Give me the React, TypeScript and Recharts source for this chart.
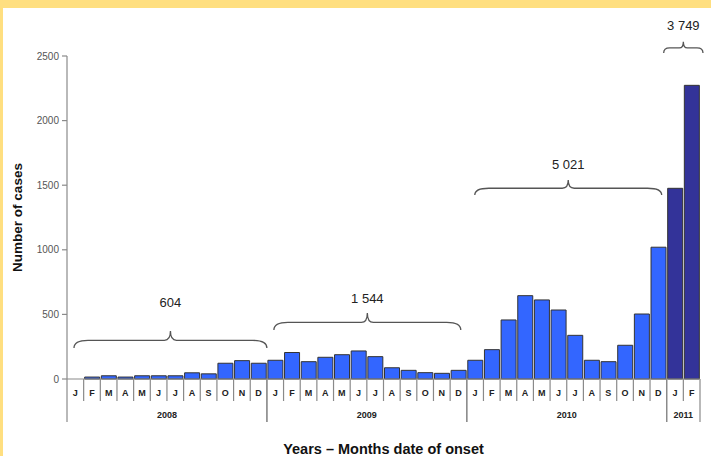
import React from "react"
import { Bar, BarChart, Cell, ReferenceArea, XAxis, YAxis } from "recharts"

const monthLetters = ["J", "F", "M", "A", "M", "J", "J", "A", "S", "O", "N", "D"]
const years = ["2008", "2009", "2010", "2011"]

// cases by month of onset, one array per year
const cases2008 = [0, 15, 25, 15, 25, 25, 25, 48, 40, 122, 142, 122]
const cases2009 = [145, 205, 134, 168, 188, 217, 173, 87, 67, 49, 44, 67]
const cases2010 = [145, 227, 457, 645, 612, 534, 338, 145, 134, 261, 503, 1020]
const cases2011 = [1476, 2273]

const casesByYear = [cases2008, cases2009, cases2010, cases2011]
const yTicks = [0, 500, 1000, 1500, 2000, 2500]

const FONT = "'Liberation Sans', Arial, sans-serif"
const BLUE = "#3366ff"
const NAVY = "#333399"
const AXIS = "#8a8a8a"

const data = years.flatMap((year, yi) =>
  casesByYear[yi].map((cases, mi) => ({
    key: `${year}-${mi}`,
    month: monthLetters[mi],
    year,
    yearIndex: yi,
    monthIndex: mi,
    monthsInYear: casesByYear[yi].length,
    cases,
  })),
)

const fmt = (n: number) => String(n).replace(/\B(?=(\d{3})+(?!\d))/g, " ")

// where each brace sits, in data units (end of the hooks, tip, label centre)
const braces = [
  { year: 0, end: 240, tip: 371, text: 596, inL: 7, inR: 0, r: 14, r2: 6 },
  { year: 1, end: 379, tip: 511, text: 627, inL: 7, inR: 6, r: 14, r2: 6 },
  { year: 2, end: 1424, tip: 1540, text: 1664, inL: 8, inR: 5, r: 14, r2: 6 },
  { year: 3, end: 2523, tip: 2611, text: 2740, inL: -3, inR: -3, r: 6, r2: 4 },
]

const MonthTick = (props: any) => {
  const { x, y, payload } = props
  const row = data[payload.index]
  if (!row) return null
  const bw = payload.offset ? payload.offset * 2 : 633 / data.length
  const left = x - bw / 2
  const right = x + bw / 2
  const yearEnd = row.monthIndex === row.monthsInYear - 1
  return (
    <g>
      <text
        x={x}
        y={y + 17}
        textAnchor="middle"
        fontSize={9}
        fontWeight="bold"
        fontFamily={FONT}
        fill="#222"
      >
        {row.month}
      </text>
      <line x1={right} y1={y} x2={right} y2={y + (yearEnd ? 43 : 22)} stroke={AXIS} strokeWidth={1.2} />
      {row.monthIndex === 0 && (
        <line x1={left} y1={y} x2={left} y2={y + 43} stroke={AXIS} strokeWidth={1.2} />
      )}
      {row.monthIndex === 0 && (
        <text
          x={left + (row.monthsInYear * bw) / 2}
          y={y + 39}
          textAnchor="middle"
          fontSize={9}
          fontWeight="bold"
          fontFamily={FONT}
          fill="#222"
        >
          {row.year}
        </text>
      )}
    </g>
  )
}

const braceShape = (b: (typeof braces)[number]) => (props: any) => {
  const { x, y, width, height } = props
  const xl = x + b.inL
  const xr = x + width - b.inR
  const xm = (xl + xr) / 2
  const top = y
  const bottom = y + height
  const flat = bottom - height * 0.45
  const d = [
    `M${xl},${bottom}`,
    `Q${xl},${flat} ${xl + b.r},${flat}`,
    `L${xm - b.r2},${flat}`,
    `Q${xm},${flat} ${xm},${top}`,
    `Q${xm},${flat} ${xm + b.r2},${flat}`,
    `L${xr - b.r},${flat}`,
    `Q${xr},${flat} ${xr},${bottom}`,
  ].join(" ")
  return <path d={d} fill="none" stroke="#555" strokeWidth={1.3} />
}

const labelShape = (b: (typeof braces)[number]) => (props: any) => {
  const { x, y, width, height } = props
  const total = casesByYear[b.year].reduce((s, v) => s + v, 0)
  return (
    <text
      x={x + width / 2 + (b.inL - b.inR) / 2}
      y={y + height / 2}
      dy="0.36em"
      textAnchor="middle"
      fontSize={13}
      fontFamily={FONT}
      fill="#222"
    >
      {fmt(total)}
    </text>
  )
}

export default function App() {
  return (
    <div
      style={{
        position: "absolute",
        left: 0,
        top: 0,
        width: 711,
        height: 456,
        background: "#ffdf80",
        overflow: "hidden",
      }}
    >
      <div
        style={{
          position: "absolute",
          left: 3,
          top: 8,
          right: 0,
          bottom: 0,
          background: "#fff",
        }}
      />
      <div style={{ position: "absolute", left: 0, top: 0 }}>
        <BarChart
          width={711}
          height={456}
          data={data}
          margin={{ top: 56, right: 11, bottom: 0, left: 0 }}
          barCategoryGap={1}
        >
          <XAxis
            dataKey="key"
            interval={0}
            height={77}
            tickSize={0}
            tickMargin={0}
            tickLine={false}
            tick={<MonthTick />}
            axisLine={{ stroke: AXIS, strokeWidth: 1.2 }}
            label={{
              value: "Years \u2013 Months date of onset",
              position: "insideBottom",
              offset: 2,
              style: { fontFamily: FONT, fontSize: 14.5, fontWeight: "bold", fill: "#111" },
            }}
          />
          <YAxis
            width={67}
            domain={[0, 2500]}
            ticks={yTicks}
            interval={0}
            tickSize={5}
            tickMargin={3}
            tickLine={{ stroke: AXIS, strokeWidth: 1.2 }}
            axisLine={{ stroke: AXIS, strokeWidth: 1.2 }}
            tick={{ fontSize: 10, fill: "#555", fontFamily: FONT }}
            label={{
              value: "Number of cases",
              angle: -90,
              position: "insideLeft",
              offset: 17,
              style: {
                fontFamily: FONT,
                fontSize: 13.5,
                fontWeight: "bold",
                fill: "#111",
                textAnchor: "middle",
              },
            }}
          />
          <Bar dataKey="cases" isAnimationActive={false} stroke="#333" strokeWidth={1}>
            {data.map((d) => (
              <Cell key={d.key} fill={d.year === "2011" ? NAVY : BLUE} />
            ))}
          </Bar>
          {braces.map((b) => {
            const rows = data.filter((d) => d.yearIndex === b.year)
            return (
              <ReferenceArea
                key={`brace-${b.year}`}
                x1={rows[0].key}
                x2={rows[rows.length - 1].key}
                y1={b.end}
                y2={b.tip}
                ifOverflow="visible"
                shape={braceShape(b)}
              />
            )
          })}
          {braces.map((b) => {
            const rows = data.filter((d) => d.yearIndex === b.year)
            return (
              <ReferenceArea
                key={`label-${b.year}`}
                x1={rows[0].key}
                x2={rows[rows.length - 1].key}
                y1={b.text - 20}
                y2={b.text + 20}
                ifOverflow="visible"
                shape={labelShape(b)}
              />
            )
          })}
        </BarChart>
      </div>
    </div>
  )
}
